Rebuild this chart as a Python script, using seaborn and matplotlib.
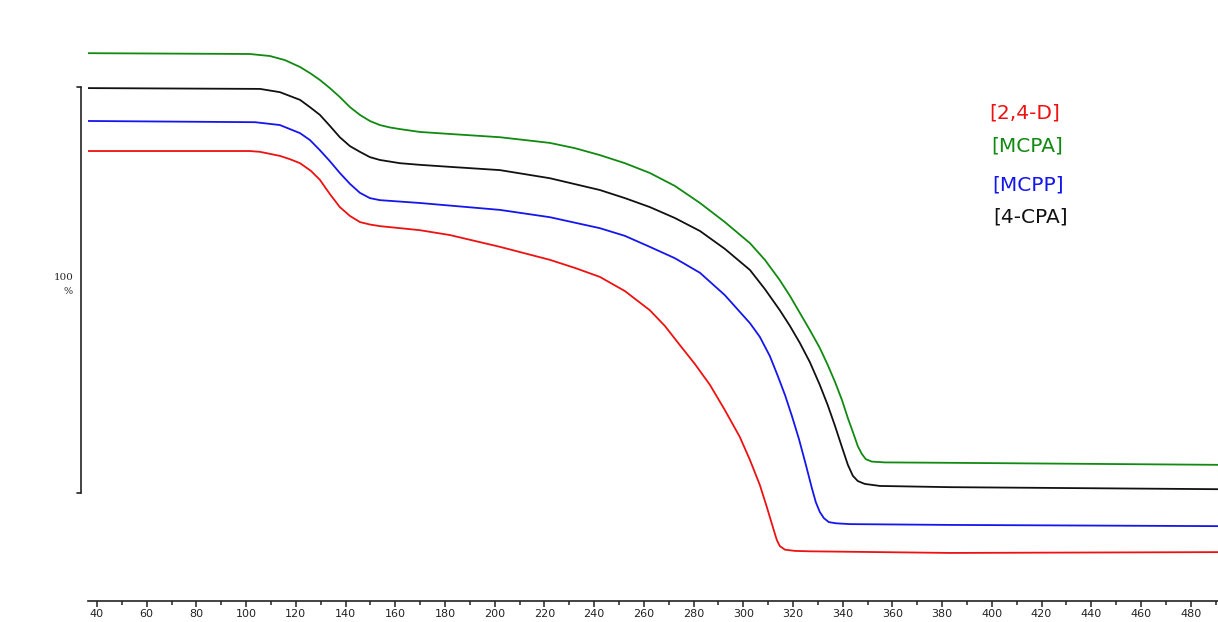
import seaborn as sns
import matplotlib.pyplot as plt
import numpy as np
import pandas as pd

# temperature (C) and plotted signal (scale units, bar = 100 %)
red_t = [36.4, 101.5, 105.6, 113.6, 117.6, 121.7, 126.1, 129.7, 133.7, 137.7, 141.8, 145.8, 149.8,
         153.8, 161.9, 169.9, 182.0, 202.1, 222.2, 232.3, 242.3, 252.4, 262.4, 268.5, 274.5, 280.6,
         286.6, 292.6, 298.6, 302.7, 306.7, 309.5, 311.9, 313.5, 314.7, 316.8, 320.8, 326.8, 383.1, 490.9]
red_v = [100.0, 100.0, 99.8, 98.8, 98.0, 97.0, 95.1, 92.9, 89.4, 86.2, 84.0, 82.5, 81.9,
         81.5, 81.0, 80.5, 79.3, 76.4, 73.2, 71.2, 69.0, 65.5, 60.8, 56.9, 52.2, 47.5,
         42.4, 36.2, 29.6, 23.9, 17.7, 12.3, 7.4, 4.2, 2.7, 1.8, 1.5, 1.4, 1.0, 1.2]

green_t = [36.4, 101.5, 109.6, 115.6, 121.7, 125.7, 129.7, 133.7, 137.7, 141.8, 145.8, 149.8, 153.8,
           157.9, 161.9, 169.9, 182.0, 202.1, 222.2, 232.3, 242.3, 252.4, 262.4, 272.5, 282.6, 292.6,
           302.7, 308.7, 314.7, 318.8, 322.8, 326.8, 330.8, 334.0, 336.8, 339.7, 342.1, 344.1, 346.1,
           347.7, 349.3, 351.7, 357.0, 383.1, 490.9]
green_v = [124.1, 123.9, 123.4, 122.4, 120.7, 119.2, 117.5, 115.5, 113.3, 110.8, 108.9, 107.4, 106.4,
           105.8, 105.4, 104.7, 104.2, 103.4, 102.0, 100.7, 99.0, 97.0, 94.6, 91.4, 87.2, 82.5,
           77.3, 73.2, 68.2, 64.3, 60.1, 55.9, 51.5, 47.3, 43.3, 38.7, 34.2, 30.8, 27.3,
           25.4, 24.1, 23.5, 23.3, 23.2, 22.7]

black_t = [36.4, 105.6, 113.6, 121.7, 125.7, 129.7, 133.7, 137.7, 141.8, 145.8, 149.8, 153.8, 161.9,
           169.9, 182.0, 202.1, 222.2, 242.3, 252.4, 262.4, 272.5, 282.6, 292.6, 302.7, 308.7, 314.7,
           318.8, 322.8, 326.8, 330.8, 334.0, 336.8, 339.7, 342.1, 344.1, 346.1, 348.9, 355.0, 383.1, 490.9]
black_v = [115.5, 115.3, 114.5, 112.6, 110.8, 108.9, 106.2, 103.4, 101.2, 99.8, 98.5, 97.8, 97.0,
           96.6, 96.1, 95.3, 93.3, 90.4, 88.4, 86.2, 83.5, 80.3, 75.9, 70.7, 66.0, 60.8,
           56.9, 52.7, 48.0, 42.4, 37.4, 32.5, 27.1, 22.7, 20.0, 18.7, 18.0, 17.5, 17.2, 16.7]

blue_t = [36.4, 103.6, 113.6, 121.7, 125.7, 129.7, 133.7, 137.7, 141.8, 145.8, 149.8, 153.8, 169.9,
          202.1, 222.2, 242.3, 252.4, 262.4, 272.5, 282.6, 292.6, 302.7, 306.7, 310.7, 313.9, 316.8,
          319.6, 322.4, 325.2, 327.6, 329.2, 330.8, 332.4, 334.4, 337.3, 342.9, 383.1, 490.9]
blue_v = [107.4, 107.1, 106.4, 104.4, 102.7, 100.2, 97.5, 94.6, 91.9, 89.7, 88.4, 87.9, 87.2,
          85.5, 83.7, 81.0, 79.1, 76.4, 73.6, 70.0, 64.5, 57.6, 54.2, 49.5, 44.6, 39.9,
          34.7, 29.1, 22.7, 17.0, 13.5, 11.1, 9.6, 8.6, 8.3, 8.1, 7.9, 7.6]

names = ['[2,4-D]', '[MCPA]', '[MCPP]', '[4-CPA]']
colors = {'[2,4-D]': '#ee1111', '[MCPA]': '#118a11', '[MCPP]': '#1515ee', '[4-CPA]': '#111111'}
x_ticks = list(range(40, 481, 20))

df = pd.concat([
    pd.DataFrame({'T': red_t, 'v': red_v, 'sample': '[2,4-D]'}),
    pd.DataFrame({'T': green_t, 'v': green_v, 'sample': '[MCPA]'}),
    pd.DataFrame({'T': blue_t, 'v': blue_v, 'sample': '[MCPP]'}),
    pd.DataFrame({'T': black_t, 'v': black_v, 'sample': '[4-CPA]'}),
])

sns.set_style('white')
fig = plt.figure(figsize=(12.18, 6.22), dpi=100)
ax = fig.add_axes([88 / 1218, 21 / 622, 1 - 88 / 1218, 1 - 21 / 622])

sns.lineplot(data=df, x='T', y='v', hue='sample', palette=colors, sort=False,
             linewidth=1.3, legend=False, ax=ax)

ax.set_xlim(36.4, 491)
ax.set_ylim(-10.84, 137.2)
for s in ['left', 'top', 'right']:
    ax.spines[s].set_visible(False)
ax.spines['bottom'].set_color('#222222')
ax.spines['bottom'].set_linewidth(1.2)
ax.set_xticks(x_ticks)
ax.set_xticks(np.arange(50, 491, 20), minor=True)
ax.tick_params(axis='x', which='both', bottom=True)
ax.tick_params(axis='x', which='major', direction='out', length=4, width=1.1, labelsize=8,
               pad=1.5, colors='#222222')
ax.tick_params(axis='x', which='minor', direction='out', length=2.6, width=1.1, colors='#222222')
ax.set_yticks([])
ax.set_xlabel('')
ax.set_ylabel('')

# 100 % scale bar on the left
bar_top, bar_bot = 115.8, 15.8
ax.plot([33.6, 33.6], [bar_top, bar_bot], color='#222222', lw=1.2, clip_on=False)
ax.plot([32.0, 33.6], [bar_top, bar_top], color='#222222', lw=1.2, clip_on=False)
ax.plot([32.0, 33.6], [bar_bot, bar_bot], color='#222222', lw=1.2, clip_on=False)
fig.text(64 / 1218, 1 - 278 / 622, '100', fontsize=7.5, family='DejaVu Serif', ha='center', va='center')
fig.text(68 / 1218, 1 - 292 / 622, '%', fontsize=7, family='DejaVu Serif', ha='center', va='center')

# sample labels
label_pos = {'[2,4-D]': (989, 113), '[MCPA]': (991, 146), '[MCPP]': (992, 185), '[4-CPA]': (993, 217)}
for n in names:
    x, y = label_pos[n]
    fig.text(x / 1218, 1 - y / 622, n, color=colors[n], fontsize=14.5, family='DejaVu Sans',
             ha='left', va='center')

fig.savefig('out.png', dpi=100)
